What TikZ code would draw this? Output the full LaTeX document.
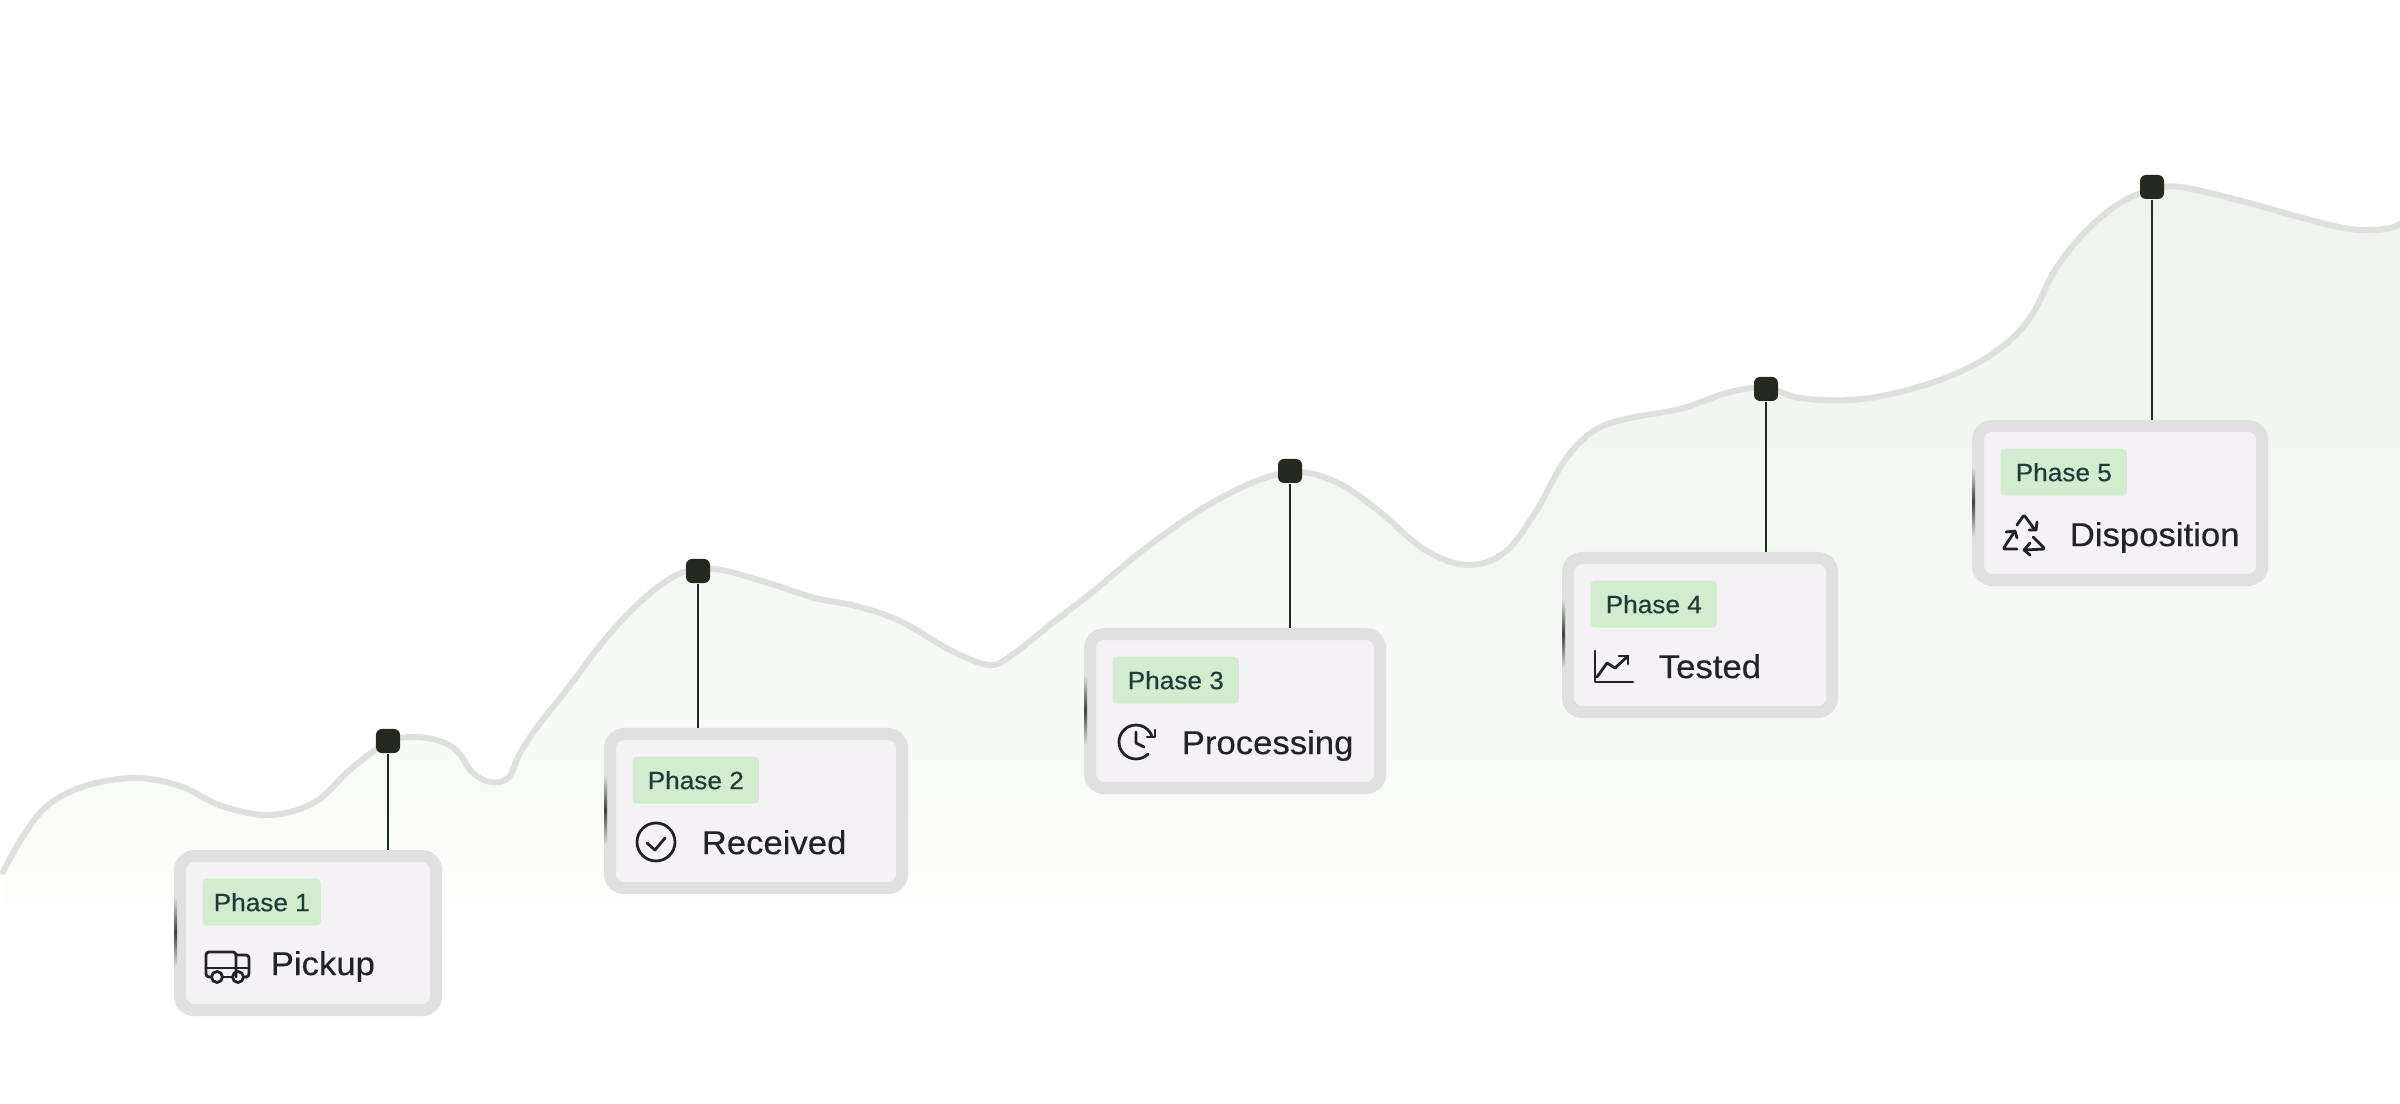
\documentclass[tikz,border=0pt]{standalone}
\usepackage{xcolor}
\usepackage{fontspec}
\setmainfont[FakeStretch=1.05, FakeBold=0.3]{Liberation Sans}
\usetikzlibrary{positioning, calc}
\definecolor{curvegray}{RGB}{221, 224, 220}
\definecolor{pindark}{RGB}{38, 41, 32}
\definecolor{stemgreen}{RGB}{30, 44, 32}
\definecolor{cardborder}{RGB}{224, 224, 224}
\definecolor{cardfill}{RGB}{244, 242, 245}
\definecolor{badgegreen}{RGB}{209, 236, 206}
\definecolor{badgetext}{RGB}{31, 61, 54}
\definecolor{labeltext}{RGB}{35, 35, 38}
\definecolor{fadeA}{RGB}{238, 244, 237}
\definecolor{fadeB}{RGB}{243, 247, 242}
\definecolor{fadeC}{RGB}{249, 251, 248}
\definecolor{fadeD}{RGB}{253, 253, 252}
\pgfdeclareverticalshading{areafade}{100bp}{color(0bp)=(white); color(25bp)=(white); color(33bp)=(white); color(37bp)=(fadeD); color(42bp)=(fadeC); color(58bp)=(fadeB); color(75bp)=(fadeA); color(100bp)=(fadeA)}
\newcommand{\curvepts}{(3,872) (22,838) (47,806) (85,786) (135,778) (180,786) (222,806) (270,815) (315,802) (352,768) (388,742) (413,737) (440,741) (458,752) (472,772) (490,782) (508,778) (519,755) (535,730) (568,688) (602,643) (640,602) (679,574) (715,569) (765,582) (815,598) (856,606) (900,621) (950,650) (989,665) (1012,655) (1050,625) (1095,590) (1147,547) (1205,507) (1259,480) (1300,472) (1340,484) (1380,512) (1425,550) (1468,565) (1505,552) (1535,513) (1565,460) (1595,430) (1630,418) (1680,409) (1730,392) (1766,388) (1800,398) (1850,400) (1900,392) (1955,374) (1998,350) (2030,318) (2055,270) (2085,232) (2120,203) (2152,190) (2180,187) (2238,200) (2299,217) (2350,229) (2385,229) (2400,224)}
\begin{document}
\begin{tikzpicture}[
    x=0.01cm, y=-0.01cm,
    curveline/.style={draw=curvegray, line width=0.06cm, line cap=round},
    pin/.style={fill=pindark, rounded corners=0.06cm, minimum width=0.24cm, minimum height=0.24cm, inner sep=0pt},
    stem/.style={draw=stemgreen, line width=0.02cm},
    card/.style={draw=cardborder, fill=cardfill, line width=0.12cm, rounded corners=0.14cm,
                 minimum height=1.54cm, anchor=north west, inner sep=0pt},
    badge/.style={fill=badgegreen, rounded corners=0.04cm, minimum height=0.47cm, minimum width=1.26cm,
                  inner sep=0pt, text=badgetext, font=\fontsize{7.1pt}{9pt}\selectfont},
    stagelabel/.style={inner sep=0pt, anchor=base west, text=labeltext, font=\fontsize{9.4pt}{11pt}\selectfont},
    icon/.style={draw=labeltext, line width=0.028cm, line cap=round, line join=round},
    sliver/.style={top color=cardborder, bottom color=cardborder, middle color=black!75}
]
    \useasboundingbox (0,0) rectangle (2400,1104);
    \fill[white] (0,0) rectangle (2400,1104);

    % area and curve
    \shade[shading=areafade] plot[smooth, tension=0.6] coordinates {\curvepts} -- (2400,1104) -- (3,1104) -- cycle;
    \draw[curveline] plot[smooth, tension=0.6] coordinates {\curvepts};

    % cards
    \node[card, minimum width=2.56cm] (card1) at (174,850) {};
    \node[card, minimum width=2.92cm] (card2) at (604,728) {};
    \node[card, minimum width=2.90cm] (card3) at (1084,628) {};
    \node[card, minimum width=2.64cm] (card4) at (1562,552) {};
    \node[card, minimum width=2.84cm] (card5) at (1972,420) {};

    \shade[sliver] (174,897) rectangle (177,967);
    \shade[sliver] (604,775) rectangle (607,845);
    \shade[sliver] (1084,675) rectangle (1087,745);
    \shade[sliver] (1562,599) rectangle (1565,669);
    \shade[sliver] (1972,467) rectangle (1975,537);

    % pins
    \node[pin] (pin1) at (388,741) {};
    \node[pin] (pin2) at (698,571) {};
    \node[pin] (pin3) at (1290,471) {};
    \node[pin] (pin4) at (1766,389) {};
    \node[pin] (pin5) at (2152,187) {};

    \draw[stem] (pin1.south) -- (pin1.south |- card1.north);
    \draw[stem] (pin2.south) -- (pin2.south |- card2.north);
    \draw[stem] (pin3.south) -- (pin3.south |- card3.north);
    \draw[stem] (pin4.south) -- (pin4.south |- card4.north);
    \draw[stem] (pin5.south) -- (pin5.south |- card5.north);

    % badges
    \node[badge, minimum width=1.18cm, anchor=north west] (badge1) at ([xshift=0.28cm,yshift=-0.28cm]card1.north west) {Phase 1};
    \node[badge, anchor=north west] (badge2) at ([xshift=0.28cm,yshift=-0.28cm]card2.north west) {Phase 2};
    \node[badge, anchor=north west] (badge3) at ([xshift=0.28cm,yshift=-0.28cm]card3.north west) {Phase 3};
    \node[badge, anchor=north west] (badge4) at ([xshift=0.28cm,yshift=-0.28cm]card4.north west) {Phase 4};
    \node[badge, anchor=north west] (badge5) at ([xshift=0.28cm,yshift=-0.28cm]card5.north west) {Phase 5};

    % labels
    \node[stagelabel] (label1) at ([xshift=0.96cm,yshift=0.41cm]card1.south west) {Pickup};
    \node[stagelabel] (label2) at ([xshift=0.97cm,yshift=0.40cm]card2.south west) {Received};
    \node[stagelabel] (label3) at ([xshift=0.97cm,yshift=0.40cm]card3.south west) {Processing};
    \node[stagelabel] (label4) at ([xshift=0.96cm,yshift=0.40cm]card4.south west) {Tested};
    \node[stagelabel] (label5) at ([xshift=0.97cm,yshift=0.40cm]card5.south west) {Disposition};

    % truck
    \draw[icon, rounded corners=0.03cm] (236,977) -- (236,952) -- (206,952) -- (206,977) -- (211,977);
    \draw[icon] (223,977) -- (232,977);
    \draw[icon, rounded corners=0.03cm] (244,977) -- (249,977) -- (249,955) -- (236,955);
    \draw[icon] (206,968) -- (249,968);
    \draw[icon] (217,977) circle[radius=0.055cm];
    \draw[icon] (238,977) circle[radius=0.055cm];

    % check
    \draw[icon] (656,842) circle[radius=0.19cm];
    \draw[icon] (647,843) -- (655,850) -- (665,838);

    % clock
    \coordinate (clockc) at (1136,742);
    \draw[icon] ([shift={(-45:0.17cm)}]clockc) arc[start angle=-45, end angle=-340, radius=0.17cm];
    \draw[icon] (1136,732) -- (1136,743) -- (1144,747);
    \draw[icon] (1155,730) -- (1155,737) -- (1147,737);

    % chart
    \draw[icon] (1595,651) -- (1595,682) -- (1633,682);
    \draw[icon] (1597,677) -- (1607,663) -- (1615,668) -- (1628,656);
    \draw[icon] (1619,656) -- (1628,656) -- (1628,664);

    % recycle
    \draw[icon, rounded corners=0.02cm] (2017,525) -- (2024,515) -- (2035,530);
    \draw[icon] (2029,530) -- (2036,530) -- (2037,522);
    \draw[icon, rounded corners=0.02cm] (2015,531) -- (2003,549) -- (2017,549);
    \draw[icon] (2006,532) -- (2015,531) -- (2017,538);
    \draw[icon, rounded corners=0.02cm] (2033,537) -- (2045,549) -- (2025,550);
    \draw[icon] (2030,543) -- (2024,550) -- (2030,555);
\end{tikzpicture}
\end{document}
